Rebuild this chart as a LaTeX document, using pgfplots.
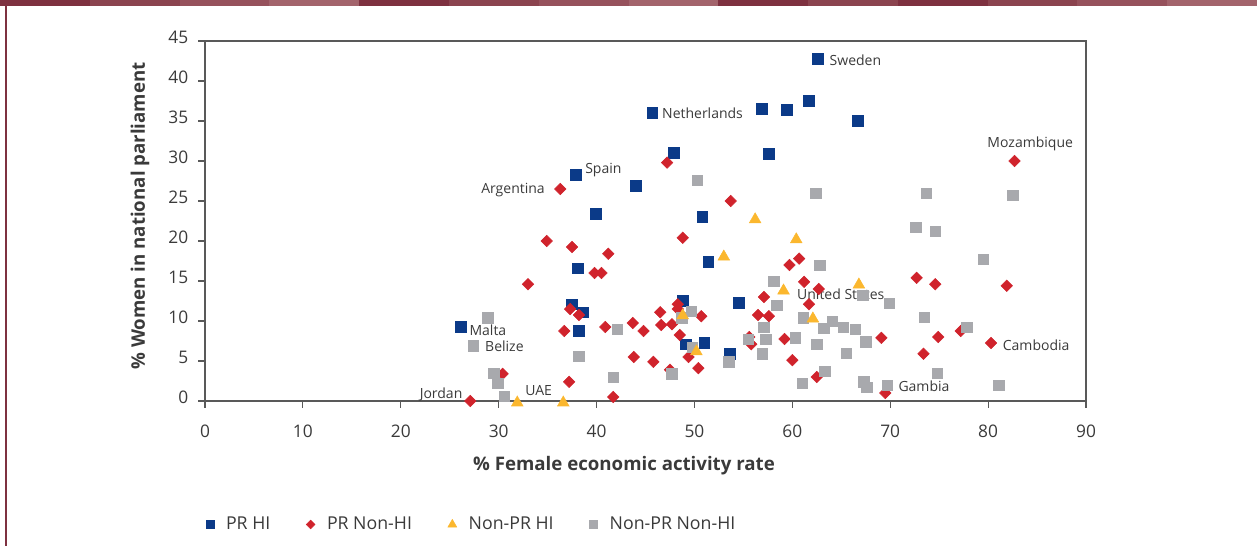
\documentclass[border=0pt]{standalone}
\usepackage{fontspec}
\setmainfont{Open Sans}
\usepackage{pgfplots}
\pgfplotsset{compat=1.18}
\definecolor{prhi}{HTML}{0B3A88}
\definecolor{prnon}{HTML}{D0232C}
\definecolor{nprhi}{HTML}{FBB72E}
\definecolor{nprnon}{HTML}{A8A9AD}
\definecolor{axgray}{HTML}{595959}
\definecolor{txt}{HTML}{3A3A3A}
\definecolor{s0}{HTML}{7E3140}
\definecolor{s1}{HTML}{8B444F}
\definecolor{s2}{HTML}{96525C}
\definecolor{s3}{HTML}{A3646C}
\newcommand{\lblfont}{\fontsize{10.5}{12}\selectfont}
\newcommand{\tickfont}{\fontsize{13}{15}\selectfont}
\newcommand{\legfont}{\fontsize{13.3}{15}\selectfont}
\newcommand{\axfont}{\fontsize{14}{16}\selectfont\bfseries}
\tikzset{lab/.style={font=\lblfont, text=txt, inner sep=0pt}}

\pgfplotstableread{
x y
62.6 42.75
61.7 37.5
56.9 36.5
59.4 36.4
45.7 36.0
66.7 35.0
47.9 31.0
57.6 30.9
37.9 28.25
44.0 26.9
39.9 23.4
50.8 23.0
51.4 17.4
38.1 16.6
48.8 12.5
54.5 12.25
37.5 12.1
38.6 11.1
38.2 8.75
49.1 7.1
51.0 7.25
53.6 5.9
26.1 9.25
}\prhitab

\pgfplotstableread{
x y
82.7 30.0
47.2 29.8
36.3 26.5
53.7 25.0
48.8 20.4
34.9 20.0
37.5 19.25
41.2 18.4
39.8 16.0
40.5 16.0
33.0 14.6
59.7 17.0
60.7 17.8
61.2 14.9
62.7 14.0
57.1 13.0
61.7 12.1
72.7 15.4
74.6 14.6
81.9 14.4
48.3 12.1
48.3 11.5
46.5 11.1
37.3 11.5
38.2 10.75
50.7 10.6
56.5 10.75
57.6 10.6
43.7 9.75
40.9 9.25
46.6 9.5
47.7 9.6
36.7 8.75
44.8 8.75
48.5 8.25
55.6 8.0
55.8 7.1
59.2 7.75
69.1 7.9
74.9 8.0
77.2 8.75
80.3 7.25
49.4 5.5
43.8 5.5
45.8 4.9
60.0 5.1
73.4 5.9
50.4 4.1
47.5 3.9
30.4 3.4
37.2 2.4
62.5 3.0
41.7 0.5
69.5 1.0
27.1 0.0
}\prnontab

\pgfplotstableread{
x y
56.2 22.9
60.4 20.4
53.0 18.25
48.8 10.9
50.2 6.4
59.1 14.0
66.8 14.75
62.1 10.5
31.9 0.0
36.6 0.0
}\nprhitab

\pgfplotstableread{
x y
50.3 27.6
62.4 26.0
73.7 26.0
82.5 25.75
72.6 21.75
74.6 21.25
79.5 17.75
62.8 17.0
58.1 15.0
67.2 13.25
58.4 12.0
69.9 12.25
49.7 11.25
48.7 10.4
61.1 10.4
64.1 10.0
73.5 10.5
63.2 9.1
65.2 9.25
66.4 9.0
57.1 9.25
77.8 9.25
42.1 9.0
28.9 10.4
27.4 6.9
55.5 7.75
57.3 7.75
60.3 7.9
62.5 7.1
67.5 7.4
49.8 6.75
38.2 5.6
56.9 5.9
65.5 6.0
53.5 4.9
47.7 3.4
63.3 3.75
74.8 3.5
41.7 3.0
29.5 3.5
29.9 2.25
30.6 0.6
61.0 2.25
67.3 2.4
67.6 1.75
69.7 2.0
81.1 2.0
}\nprnontab

\begin{document}
\begin{tikzpicture}
\path[use as bounding box] (0,0) rectangle (942.75pt,409.5pt);
\foreach \i/\c in {0/s0,1/s1,2/s2,3/s3,4/s0,5/s1,6/s2,7/s3,8/s0,9/s1,10/s0,11/s1,12/s2,13/s3} {
  \fill[fill=\c] ({\i*67.34pt},405pt) rectangle ({(\i+1)*67.34pt},409.5pt);
}
\fill[fill=s0] (3.6pt,0pt) rectangle (5.1pt,405pt);
\begin{axis}[
  at={(153.75pt,108.75pt)}, anchor=south west,
  width=660.75pt, height=270pt, scale only axis,
  xmin=0, xmax=90, ymin=0, ymax=45,
  xtick={0,10,...,90}, ytick={0,5,...,45},
  tick pos=left, tick align=outside, major tick length=5pt,
  axis line style={draw=axgray, line width=0.9pt},
  every tick/.style={draw=axgray, line width=0.9pt},
  ticklabel style={font=\tickfont, text=txt},
  /pgf/number format/assume math mode=true,
  xticklabel style={yshift=-9.5pt},
  yticklabel style={xshift=-4pt, yshift=2.5pt},
  clip=false,
  xlabel={\% Female economic activity rate},
  ylabel={\% Women in national parliament},
  xlabel style={at={(axis description cs:0.4756,-0.1806)}, anchor=center, font=\axfont, text=txt},
  ylabel style={at={(axis description cs:-0.0738,0.514)}, anchor=center, font=\axfont, text=txt},
  legend columns=4,
  legend style={at={(axis description cs:0.0009,-0.343)}, anchor=west, draw=none, fill=none,
    inner sep=0pt, font=\legfont, text=txt,
    /tikz/every odd column/.append style={column sep=7pt},
    /tikz/every even column/.append style={column sep=25pt}},
  legend image code/.code={\draw[#1] plot coordinates {(0pt,0pt)};},
]
\addplot[only marks, mark=square*, color=prhi, mark size=4pt, forget plot] table {\prhitab};
\addplot[only marks, mark=square*, color=prnon, mark size=3.05pt, mark options={rotate=45}, forget plot] table {\prnontab};
\addplot[only marks, mark=square*, color=nprnon, mark size=3.9pt, forget plot] table {\nprnontab};
\addplot[only marks, mark=triangle*, color=nprhi, mark size=5pt, mark options={yshift=-1.25pt}, forget plot] table {\nprhitab};

\addlegendimage{only marks, mark=square*, color=prhi, mark size=3pt}
\addlegendentry{PR HI}
\addlegendimage{only marks, mark=square*, color=prnon, mark size=2.3pt, mark options={rotate=45}}
\addlegendentry{PR Non-HI}
\addlegendimage{only marks, mark=triangle*, color=nprhi, mark size=3.8pt}
\addlegendentry{Non-PR HI}
\addlegendimage{only marks, mark=square*, color=nprnon, mark size=3pt}
\addlegendentry{Non-PR Non-HI}

\node[lab, anchor=base west] at (axis cs:63.79,42.0) {Sweden};
\node[lab, anchor=base west] at (axis cs:46.68,35.375) {Netherlands};
\node[lab, anchor=base west] at (axis cs:38.82,28.5) {Spain};
\node[lab, anchor=base east] at (axis cs:34.73,25.94) {Argentina};
\node[lab, anchor=base west] at (axis cs:27.0,8.125) {Malta};
\node[lab, anchor=base west] at (axis cs:28.6,6.16) {Belize};
\node[lab, anchor=base east] at (axis cs:26.32,0.34) {Jordan};
\node[lab, anchor=base west] at (axis cs:32.69,0.66) {UAE};
\node[lab, anchor=base west] at (axis cs:60.47,12.75) {United States};
\node[lab, anchor=base] at (axis cs:84.3,31.69) {Mozambique};
\node[lab, anchor=base west] at (axis cs:81.48,6.375) {Cambodia};
\node[lab, anchor=base west] at (axis cs:70.82,1.125) {Gambia};
\end{axis}
\end{tikzpicture}
\end{document}
